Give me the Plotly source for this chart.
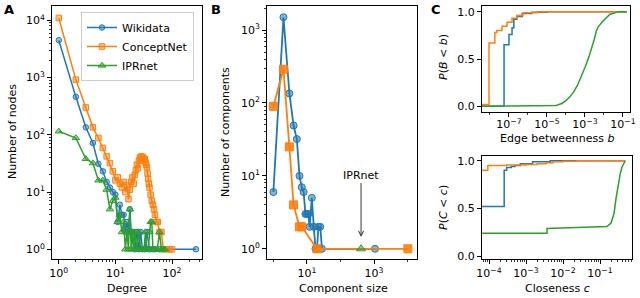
import math
import plotly.graph_objects as go

# ---------------- Panel A: degree distributions ----------------
deg_wiki = [1, 2, 3, 4, 5, 6, 7, 8, 9, 10, 11, 12, 13, 14, 15, 16, 17, 18, 19, 20,
            22, 24, 26, 28, 30, 33, 36, 40, 45, 50, 60, 70, 265]
cnt_wiki = [4500, 460, 135, 72, 31, 23, 15, 12, 10, 9, 3, 6, 4, 4, 2, 3, 2, 5, 2, 2,
            1, 2, 1, 2, 1, 1, 2, 1, 1, 1, 1, 1, 1]

deg_cnet = [1, 2, 3, 4, 5, 6, 7, 8, 9, 10, 11, 12, 13, 14, 15, 16, 17, 18, 19, 20,
            21, 22, 23, 24, 25, 26, 27, 28, 29, 30, 31, 32, 33, 34, 35, 36, 37, 38, 39, 40,
            42, 44, 46, 48, 50, 53, 56, 60, 65, 70, 80, 90, 100]
cnt_cnet = [11000, 920, 300, 135, 88, 59, 42, 32, 23, 16, 18, 14, 12, 15, 10, 13, 7.5, 11, 15, 18,
            14, 20, 24, 30, 26, 35, 40, 38, 42, 36, 40, 38, 37, 33, 30, 27, 21, 17, 14, 12,
            9, 7, 6, 5, 4, 3, 3, 2, 2, 1, 1, 1, 1]

deg_ipr = [1, 2, 3, 4, 5, 6, 7, 8, 9, 10, 11, 12, 13, 14, 15, 16, 17, 18, 19, 20,
           21, 22, 24, 26, 28, 30, 32, 34, 36, 38, 40, 42, 44, 46, 50, 55, 60, 65, 70, 75]
cnt_ipr = [115, 88, 38, 32, 16, 16, 11, 5, 7, 8, 3, 4, 2, 3, 1, 2, 1, 5, 1, 2,
           1, 2, 1, 2, 1, 1, 1, 2, 1, 1, 2, 3, 3, 1, 1, 1, 2, 1, 1, 1]

# ---------------- Panel B: component size distributions ----------------
size_wiki = [1, 2, 3, 4, 5, 6, 7, 8, 9, 10, 11, 12, 14, 16, 18, 20, 22, 25, 28, 1070]
comp_wiki = [6, 1500, 135, 49, 32, 10, 7, 6, 3, 3, 3, 2, 5, 2, 1, 1, 2, 2, 1, 1]
size_cnet = [1, 2, 3, 4, 6, 7, 20, 10200]
comp_cnet = [90, 290, 25, 4, 2, 2, 1, 1]
size_ipr = [410]
comp_ipr = [1]
ipr_arrow_tip = 1.45  # number-of-components level where the arrow ends

# ---------------- Panel C (top): edge betweenness CDF ----------------
eb_wiki_x = [3.8e-9, 5.5e-8, 1e-7, 1.45e-7, 1.8e-7, 2.6e-7, 5e-7, 1.6e-6, 1e-5, 0.16]
eb_wiki_p = [0.0, 0.65, 0.76, 0.83, 0.92, 0.95, 0.98, 0.995, 1.0, 1.0]
eb_cnet_x = [3.8e-9, 8.9e-9, 1.8e-8, 2.3e-8, 4.3e-8, 7.9e-8, 1.45e-7, 2.6e-7, 5.5e-7, 3e-6, 0.16]
eb_cnet_p = [0.02, 0.67, 0.78, 0.80, 0.845, 0.887, 0.93, 0.96, 0.99, 1.0, 1.0]
eb_ipr_x = [3.8e-9, 1e-6, 1e-5, 3e-5, 6e-5, 1e-4, 1.6e-4, 2.5e-4, 4e-4, 6.3e-4, 1e-3, 1.6e-3,
            2e-3, 2.5e-3, 3.2e-3, 4e-3, 5e-3, 8e-3, 1.26e-2, 2e-2, 4e-2, 6.3e-2, 0.16]
eb_ipr_p = [0.0, 0.002, 0.005, 0.01, 0.03, 0.06, 0.1, 0.15, 0.22, 0.31, 0.41, 0.52,
            0.58, 0.66, 0.72, 0.80, 0.84, 0.89, 0.93, 0.97, 0.99, 1.0, 1.0]

# ---------------- Panel C (bottom): closeness CDF ----------------
cl_wiki_x = [6.5e-5, 2.57e-4, 3e-4, 4e-4, 5e-4, 7e-4, 1.5e-3, 4.5e-3, 0.48]
cl_wiki_p = [0.52, 0.90, 0.93, 0.94, 0.95, 0.97, 0.99, 1.0, 1.0]
cl_cnet_x = [6.5e-5, 9.3e-5, 3e-4, 1e-3, 2e-3, 3.5e-3, 5.4e-3, 1e-2, 2.4e-2, 0.48]
cl_cnet_p = [0.90, 0.95, 0.955, 0.962, 0.97, 0.98, 0.99, 0.995, 1.0, 1.0]
cl_ipr_x = [6.5e-5, 3.7e-3, 3.7e-3, 0.03, 0.155, 0.2, 0.24, 0.27, 0.31, 0.35, 0.39, 0.48]
cl_ipr_p = [0.24, 0.24, 0.29, 0.30, 0.31, 0.35, 0.45, 0.60, 0.75, 0.86, 0.93, 1.0]

BLUE, ORANGE, GREEN = "#1f77b4", "#ff7f0e", "#2ca02c"
FILL = {BLUE: "rgba(31,119,180,0.45)", ORANGE: "rgba(255,127,14,0.45)", GREEN: "rgba(44,160,44,0.45)"}
FONT = "DejaVu Sans"
W, H = 640, 298


def xd(a, b):
    return [a / W, b / W]


def yd(top, bot):
    return [1 - bot / H, 1 - top / H]


fig = go.Figure()


def add_line(x, y, color, name, ax, symbol=None, size=5, fill=None, legend=False, shape="linear", width=1.5):
    kw = dict(x=x, y=y, name=name, showlegend=legend, xaxis=ax[0], yaxis=ax[1],
              line=dict(color=color, width=width, shape=shape))
    if symbol:
        kw["mode"] = "lines+markers"
        kw["marker"] = dict(symbol=symbol, size=size, color=fill or FILL[color],
                            line=dict(color=color, width=1))
    else:
        kw["mode"] = "lines"
    fig.add_trace(go.Scatter(**kw))


# Panel A
add_line(deg_wiki, cnt_wiki, BLUE, "Wikidata", ("x", "y"), "circle", 5.5, legend=True)
add_line(deg_cnet, cnt_cnet, ORANGE, "ConceptNet", ("x", "y"), "square", 5.5, legend=True)
add_line(deg_ipr, cnt_ipr, GREEN, "IPRnet", ("x", "y"), "triangle-up", 6.5, legend=True)

# Panel B
add_line(size_wiki, comp_wiki, BLUE, "Wikidata", ("x2", "y2"), "circle", 7, fill="rgba(31,119,180,0.55)", width=1.8)
add_line(size_cnet, comp_cnet, ORANGE, "ConceptNet", ("x2", "y2"), "square", 8, fill="rgba(255,127,14,0.9)", width=1.8)
add_line(size_ipr, comp_ipr, GREEN, "IPRnet", ("x2", "y2"), "triangle-up", 8, fill="rgba(44,160,44,0.5)")

# Panel C top
add_line(eb_wiki_x, eb_wiki_p, BLUE, "Wikidata", ("x3", "y3"), shape="hv")
add_line(eb_cnet_x, eb_cnet_p, ORANGE, "ConceptNet", ("x3", "y3"), shape="hv")
add_line(eb_ipr_x, eb_ipr_p, GREEN, "IPRnet", ("x3", "y3"))

# Panel C bottom
add_line(cl_wiki_x, cl_wiki_p, BLUE, "Wikidata", ("x4", "y4"), shape="hv")
add_line(cl_cnet_x, cl_cnet_p, ORANGE, "ConceptNet", ("x4", "y4"), shape="hv")
add_line(cl_ipr_x, cl_ipr_p, GREEN, "IPRnet", ("x4", "y4"))


def sup(e):
    s = str(e).replace("-", "\u2212")
    return "10<sup>%s</sup>" % s


def minor_log(lo, hi):
    return [m * 10.0 ** e for e in range(lo, hi + 1) for m in range(2, 10)]


base = dict(showline=True, linecolor="black", linewidth=1, mirror=True, ticks="outside",
            ticklen=4, tickwidth=1, tickcolor="black", showgrid=False, zeroline=False,
            automargin=False,
            tickfont=dict(family=FONT, size=11, color="black"))


def logax(domain, rng, exps, anchor, minor_vals, minor_len=2, standoff=0):
    d = dict(base)
    d.update(type="log", domain=domain, range=rng, anchor=anchor,
             tickmode="array", tickvals=[10.0 ** e for e in exps], ticktext=[sup(e) for e in exps],
             ticklabelstandoff=standoff,
             minor=dict(tickmode="array", tickvals=minor_vals, ticks="outside", ticklen=minor_len,
                        tickcolor="black", tickwidth=0.8, showgrid=False))
    return d


def linax(domain, rng, anchor):
    d = dict(base)
    d.update(type="linear", domain=domain, range=rng, anchor=anchor,
             tickmode="array", tickvals=[0, 0.5, 1.0], ticktext=["0.0", "0.5", "1.0"])
    return d


fig.update_layout(
    template="none",
    width=W, height=H, margin=dict(l=0, r=0, t=0, b=0, autoexpand=False),
    paper_bgcolor="white", plot_bgcolor="white",
    font=dict(family=FONT, size=11, color="black"),
    xaxis=logax(xd(52, 202), [-0.12, 2.53], [0, 1, 2], "y", minor_log(0, 2)),
    yaxis=logax(yd(6, 259), [-0.17, 4.25], [0, 1, 2, 3, 4], "x", minor_log(0, 4)),
    xaxis2=logax(xd(267, 417), [-0.19, 4.28], [1, 3], "y2", [1, 100, 10000]),
    yaxis2=logax(yd(6, 259), [-0.14, 3.33], [0, 1, 2, 3], "x2", minor_log(0, 3)),
    xaxis3=logax(xd(482, 630), [-8.42, -0.63], [-7, -5, -3, -1], "y3", [1e-8, 1e-6, 1e-4, 1e-2],
                 standoff=-2),
    yaxis3=linax(yd(6, 112), [-0.06, 1.06], "x3"),
    xaxis4=logax(xd(482, 632), [-4.19, -0.135], [-4, -3, -2, -1], "y4", minor_log(-5, -1)),
    yaxis4=linax(yd(156, 259), [-0.03, 1.05], "x4"),
    legend=dict(x=81 / W, y=1 - 12 / H, xanchor="left", yanchor="top",
                bgcolor="rgba(255,255,255,0.85)", bordercolor="#cccccc", borderwidth=1,
                font=dict(family=FONT, size=11, color="black"), tracegroupgap=0,
                itemwidth=30),
)


def ann(text, x, y, size=11, angle=0, bold=False):
    t = "<b>%s</b>" % text if bold else text
    return dict(text=t, x=x / W, y=1 - y / H, xref="paper", yref="paper", showarrow=False,
                textangle=angle, xanchor="center", yanchor="middle",
                font=dict(family=FONT, size=size, color="black"))


annotations = [
    ann("A", 9, 9, 13, bold=True),
    ann("B", 216, 9, 13, bold=True),
    ann("C", 436, 9, 13, bold=True),
    ann("Number of nodes", 12, 132, angle=-90),
    ann("Degree", 127, 288),
    ann("Number of components", 225, 132, angle=-90),
    ann("Component size", 343, 288),
    ann("<i>P</i>(<i>B</i> &lt; <i>b</i>)", 443, 57, angle=-90),
    ann("Edge betweenness <i>b</i>", 557, 138),
    ann("<i>P</i>(<i>C</i> &lt; <i>c</i>)", 443, 208, angle=-90),
    ann("Closeness <i>c</i>", 557, 288),
    dict(text="IPRnet", x=math.log10(size_ipr[0]), y=math.log10(ipr_arrow_tip),
         xref="x2", yref="y2", showarrow=True,
         ax=0, ay=-62, arrowhead=5, arrowsize=1, arrowwidth=1, arrowcolor="#333333",
         standoff=0, font=dict(family=FONT, size=11, color="black")),
]
fig.update_layout(annotations=annotations)

fig.write_html("out.html",
               config={"displayModeBar": False, "staticPlot": True},
               post_script="document.body.style.margin='0px';document.body.style.overflow='hidden';")
